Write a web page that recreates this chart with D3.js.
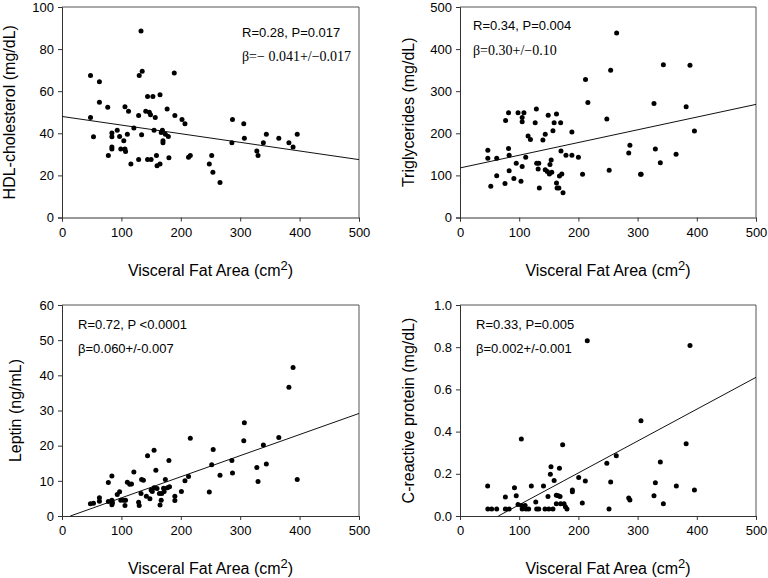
<!DOCTYPE html>
<html><head><meta charset="utf-8">
<script src="https://cdn.jsdelivr.net/npm/d3@7"></script>
<style>body{margin:0;background:#fff}svg{display:block}</style>
</head><body><svg id="c" width="768" height="578"></svg>
<script>
// ---- data ----
const xTicks = [0, 100, 200, 300, 400, 500];

const hdlX = [48,48,53,63,63,77,78,84,84,84,84,93,97,99,104,106,107,106,110,112,116,121,129,129,130,133,134,135,141,144,144,147,149,150,153,155,157,159,160,165,165,167,169,170,170,174,177,179,180,189,190,202,207,213,216,248,252,254,266,286,287,306,307,328,330,339,344,365,382,389,396];
const hdlY = [67.5,47.5,38.4,64.5,54.7,52.4,29.5,40.1,38.4,33.5,32.5,41.5,38.5,32.5,36.5,32.5,31.3,52.6,39.5,50.5,25.4,42.5,27.5,48.5,67.5,88.6,39.3,69.5,50.5,57.5,27.5,50,48.8,27.5,57.5,41.5,47.5,29.4,24.6,58.3,25.4,40.4,41.5,36.5,35.5,39.5,51.5,38.5,28.4,68.6,48.5,46.6,44.5,28.6,29.5,25.4,29.5,21.5,16.6,35.5,46.6,44.5,37.6,31.6,29.5,35.5,39.5,37.6,35.5,33.5,39.5];
const hdlFit = [48.0, -0.041];
const hdlTicks = [0, 20, 40, 60, 80, 100];

const tgX = [47,47,52,62,62,76,77,82,82,83,83,91,95,98,103,105,105,105,108,111,115,119,127,129,129.5,132,133,134,140,144,144,147.5,149,151,152,154,155,157,159,163,163,164,167,168,170,170.6,172,174,179,189,189,200,207,212,216,248,252,254.5,264.6,285,287,305,306,327.7,330,338.4,343.5,365,382,388.5,396];
const tgY = [159.6,141,74,141,99,80.6,230.6,248.8,164,148,111,92.4,128.8,248.8,86,237.8,227.5,121,248.8,143,193.5,185,225,258,128.8,115,128.8,70,184,197.5,113.7,109,243,103.5,125.6,136.7,107.4,206,225,246,82,70,70,98.7,225,158,103.5,59,147.7,203,147.7,143,102.7,327.8,273.3,233.8,112,350,438.4,153,171.4,102.7,102.7,271,162.7,130,363,150,263,361.8,205.4];
const tgFit = [117.7, 0.302];
const tgTicks = [0, 100, 200, 300, 400, 500];

const lepX = [47.8,53,63,63,78,78,84,84,84,85,93,97,99,104,106,107,110,114,117,121,129,130,133,134,137,142,144,148,150,152,155,155,158,160,164,165,167,168,171,172,174,177.5,180,181,190,190,201,207,213,216,248,252,254.5,266,286,287,306,307,328,330,339,344,365,382,389,396];
const lepY = [3.5,3.6,5.2,4.2,9.5,4.1,11.4,4.5,3.2,3.8,6.1,6.9,4.5,4.5,3.0,4.5,9.6,9.0,9.1,12.5,3.9,3.0,6.4,10.4,10.2,5.6,17.1,4.9,7.4,7.0,18.7,8.0,13.0,7.8,6.4,3.1,4.5,6.4,7.9,7.0,10.4,8.0,15.8,8.3,5.6,4.4,7.0,10.0,11.2,22.1,6.8,14.6,18.9,11.6,15.8,12.2,21.4,26.5,13.8,9.8,20.2,14.8,22.3,36.6,42.2,10.4];
const lepFit = [-0.84, 0.060];
const lepTicks = [0, 10, 20, 30, 40, 50, 60];

const crpX = [46.7,47,53.5,62,76.6,76.6,83,92,95,98,103.6,104,105,110,111.5,116,120.5,128,129.5,133,141,143.6,148.6,150,152.6,153.7,157,159,162.7,162.7,166,168,169,170,173.4,175.7,178,180.7,189.8,189.8,200.5,206.6,211.7,215,248,251.7,254.5,264,285,287,305.7,327.7,330,338.4,343.5,365.4,382,388.5,396];
const crpY = [0.142,0.033,0.033,0.033,0.09,0.033,0.033,0.134,0.096,0.055,0.365,0.05,0.033,0.05,0.033,0.033,0.142,0.066,0.033,0.033,0.142,0.033,0.092,0.033,0.198,0.234,0.033,0.168,0.098,0.058,0.096,0.226,0.092,0.058,0.338,0.058,0.044,0.033,0.123,0.115,0.183,0.062,0.166,0.83,0.25,0.033,0.161,0.286,0.085,0.076,0.452,0.096,0.158,0.256,0.058,0.142,0.343,0.808,0.123];
const crpFit = [-0.0978, 0.00151];
const crpTicks = [0, 0.2, 0.4, 0.6, 0.8, 1.0];

// ---- drawing ----
const svg = d3.select("#c");
const FONT = "Arial, 'Liberation Sans', sans-serif";
const SERIF = "'Times New Roman', 'Liberation Serif', serif";

function panel(o) {
  const g = svg.append("g");
  const x = d3.scaleLinear().domain([0, 500]).range([o.left, o.right]);
  const y = d3.scaleLinear().domain([o.yTicks[0], o.yTicks[o.yTicks.length - 1]]).range([o.bottom, o.top]);

  // frame (top, right)
  g.append("path")
    .attr("d", `M${o.left},${o.top}H${o.right}V${o.bottom}`)
    .attr("fill", "none").attr("stroke", "#555").attr("stroke-width", 1);

  const xa = g.append("g").attr("transform", `translate(0,${o.bottom})`)
    .call(d3.axisBottom(x).tickValues(xTicks).tickSize(4).tickFormat(d3.format("d")));
  const ya = g.append("g").attr("transform", `translate(${o.left},0)`)
    .call(d3.axisLeft(y).tickValues(o.yTicks).tickSize(4).tickFormat(o.fmt));
  [xa, ya].forEach(a => {
    a.selectAll("path,line").attr("stroke", "#333");
    a.selectAll("text").attr("fill", "#000").style("font-family", FONT).style("font-size", "13px");
  });
  xa.selectAll("text").attr("y", 10);
  ya.selectAll("text").attr("x", -8);

  // regression line
  const [b0, b1] = o.fit;
  let x0 = 0, x1 = 500;
  const yMin = o.yTicks[0];
  if (b0 + b1 * x0 < yMin) x0 = (yMin - b0) / b1;
  g.append("line")
    .attr("x1", x(x0)).attr("y1", y(b0 + b1 * x0))
    .attr("x2", x(x1)).attr("y2", y(b0 + b1 * x1))
    .attr("stroke", "#111").attr("stroke-width", 1);

  // points
  g.selectAll("circle.p").data(o.xs.map((v, i) => [v, o.ys[i]]))
    .enter().append("circle").attr("class", "p")
    .attr("cx", d => x(d[0])).attr("cy", d => y(d[1]))
    .attr("r", 2.5).attr("fill", "#000");

  // axis titles
  const cx = (o.left + o.right) / 2;
  const xt = g.append("text").attr("x", cx).attr("y", o.bottom + 58)
    .attr("text-anchor", "middle").style("font-family", FONT).style("font-size", "16px");
  xt.append("tspan").text("Visceral Fat Area (cm");
  xt.append("tspan").attr("dy", -6).style("font-size", "13px").text("2");
  xt.append("tspan").attr("dy", 6).text(")");

  g.append("text")
    .attr("transform", `translate(${o.ylabX},${(o.top + o.bottom) / 2}) rotate(-90)`)
    .attr("text-anchor", "middle").attr("dy", "0.35em")
    .style("font-family", FONT).style("font-size", "16px").text(o.ylab);

  // annotations
  g.append("text").attr("x", o.annX).attr("y", o.annY1)
    .style("font-family", FONT).style("font-size", "13px").text(o.ann1);
  g.append("text").attr("x", o.annX).attr("y", o.annY2)
    .style("font-family", o.serif ? SERIF : FONT).style("font-size", o.serif ? "14px" : "13px").text(o.ann2);
}

panel({left: 62, right: 359, top: 7, bottom: 217.5, yTicks: hdlTicks, fmt: d3.format("d"),
  xs: hdlX, ys: hdlY, fit: hdlFit, ylab: "HDL-cholesterol (mg/dL)", ylabX: 9,
  annX: 242, annY1: 37, annY2: 61, ann1: "R=0.28, P=0.017", ann2: "β=− 0.041+/−0.017", serif: true});
panel({left: 460, right: 756, top: 7, bottom: 217.5, yTicks: tgTicks, fmt: d3.format("d"),
  xs: tgX, ys: tgY, fit: tgFit, ylab: "Triglycerides (mg/dL)", ylabX: 408,
  annX: 473, annY1: 30, annY2: 55, ann1: "R=0.34, P=0.004", ann2: "β=0.30+/−0.10", serif: true});
panel({left: 62, right: 359, top: 305, bottom: 516, yTicks: lepTicks, fmt: d3.format("d"),
  xs: lepX, ys: lepY, fit: lepFit, ylab: "Leptin (ng/mL)", ylabX: 15,
  annX: 78, annY1: 329, annY2: 353, ann1: "R=0.72, P <0.0001", ann2: "β=0.060+/-0.007", serif: false});
panel({left: 460, right: 756, top: 305, bottom: 516, yTicks: crpTicks, fmt: d3.format(".1f"),
  xs: crpX, ys: crpY, fit: crpFit, ylab: "C-reactive protein (mg/dL)", ylabX: 408,
  annX: 476, annY1: 329, annY2: 353, ann1: "R=0.33, P=0.005", ann2: "β=0.002+/-0.001", serif: false});
</script>
</body></html>
